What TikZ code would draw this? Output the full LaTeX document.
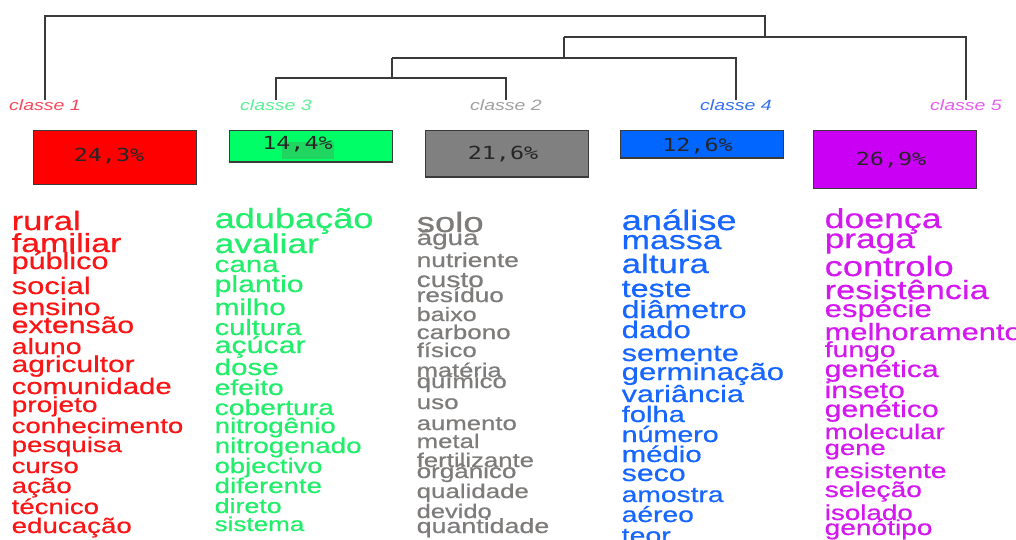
\documentclass[tikz,border=0pt]{standalone}
\usepackage{fontspec}
\usetikzlibrary{calc}
\newfontfamily\wordfont[FakeStretch=1.3,FakeBold=0.6]{Liberation Sans}
\newfontfamily\labfont[FakeStretch=1.3]{Liberation Sans}
\newfontfamily\pctfont[FakeStretch=1.3]{DejaVu Sans Mono}
\definecolor{redbox}{RGB}{255,0,0}
\definecolor{greenbox}{RGB}{0,255,102}
\definecolor{greenpatch}{RGB}{32,214,96}
\definecolor{graybox}{RGB}{128,128,128}
\definecolor{bluebox}{RGB}{0,102,255}
\definecolor{magbox}{RGB}{202,0,245}
\definecolor{redword}{RGB}{250,22,22}
\definecolor{greenword}{RGB}{34,238,108}
\definecolor{grayword}{RGB}{126,124,122}
\definecolor{blueword}{RGB}{22,102,255}
\definecolor{magword}{RGB}{212,24,240}
\definecolor{redlab}{RGB}{248,72,92}
\definecolor{greenlab}{RGB}{92,240,150}
\definecolor{graylab}{RGB}{160,160,160}
\definecolor{bluelab}{RGB}{52,112,240}
\definecolor{maglab}{RGB}{228,92,240}
\definecolor{treeline}{RGB}{58,58,58}
\tikzset{
	word/.style={anchor=base west, inner sep=0pt, font=\wordfont},
	classlab/.style={anchor=base, inner sep=0pt, font=\labfont\itshape\fontsize{15}{15}\selectfont},
	pbox/.style={draw=treeline, line width=1.4pt, anchor=north west, minimum width=163, inner sep=0pt},
	pct/.style={anchor=base, inner sep=0pt, text=black!85, font=\pctfont\fontsize{18}{18}\selectfont},
	tree/.style={draw=treeline, line width=1.3pt}
}
\begin{document}
\begin{tikzpicture}[x=1pt,y=-1pt]
\fill[white] (0,0) rectangle (1016,540);
\useasboundingbox (0,0) rectangle (1016,540);

\node[classlab, text=redlab] (c1) at (45,111) {classe 1};
\node[classlab, text=greenlab] (c3) at (276,111) {classe 3};
\node[classlab, text=graylab] (c2) at (506,111) {classe 2};
\node[classlab, text=bluelab] (c4) at (736,111) {classe 4};
\node[classlab, text=maglab] (c5) at (966,111) {classe 5};

\coordinate (root) at (765,16);
\coordinate (j1) at (765,37);
\coordinate (j2) at (564,58);
\coordinate (j3) at (392,78);
\draw[tree] (c1.north) |- (root) -- (j1);
\draw[tree] (j2 |- j1) -| (c5.north);
\draw[tree] (j2 |- j1) -- (j2);
\draw[tree] (j3 |- j2) -| (c4.north);
\draw[tree] (j3 |- j2) -- (j3);
\draw[tree] (c3.north) |- (j3) -| (c2.north);

\node[pbox, fill=redbox, minimum height=54] (b1) at (32.5,130) {};
\node[pbox, fill=greenbox, minimum height=31.5] (b3) at (228.5,130) {};
\fill[greenpatch] (281.7,141.7) rectangle (334,159);
\node[pbox, fill=graybox, minimum height=46.5] (b2) at (425,130) {};
\node[pbox, fill=bluebox, minimum height=27.5] (b4) at (620,130) {};
\node[pbox, fill=magbox, minimum height=58] (b5) at (812.5,130) {};
\node[pct] (p1) at (109,161) {24,3\%};
\node[pct] (p3) at (297.5,149.5) {14,4\%};
\node[pct] (p2) at (503,159.5) {21,6\%};
\node[pct] (p4) at (697.5,152) {12,6\%};
\node[pct] (p5) at (891,165.5) {26,9\%};

\foreach \w/\s/\y [count=\i] in {rural/26.5/230, familiar/26.2/252, público/23.5/269,
	social/23.8/294, ensino/23.2/315, extensão/23.2/333, aluno/22/354, agricultor/23/372,
	comunidade/22.6/394, projeto/21.6/412, conhecimento/21.2/433, pesquisa/21.2/452,
	curso/21.1/473, ação/21.3/493, técnico/21.2/514, educação/21.3/533}
	\node[word, text=redword] (r\i) at (11.5,\y) {\fontsize{\s}{\s}\selectfont \w};

\foreach \w/\s/\y [count=\i] in {adubação/27.8/228, avaliar/27.2/253, cana/22.7/272,
	plantio/23.2/292, milho/22.9/315, cultura/22.3/335, açúcar/23.3/353, dose/22.7/375,
	efeito/21.7/395, cobertura/21.7/415, nitrogênio/21.2/433, nitrogenado/21.4/453,
	objectivo/21/473, diferente/21.2/493, direto/20.6/513, sistema/20/531}
	\node[word, text=greenword] (g\i) at (214.5,\y) {\fontsize{\s}{\s}\selectfont \w};

\foreach \w/\s/\y [count=\i] in {solo/28.1/232, água/21.4/245, nutriente/20.2/267,
	custo/21.6/287, resíduo/20.1/302, baixo/19.3/321, carbono/20/339, físico/19.8/357,
	matéria/19.6/377, químico/19.8/388, uso/20/409, aumento/19.8/430, metal/19.8/448,
	fertilizante/19.8/467, orgânico/20/478, qualidade/19.9/498, devido/19.6/518,
	quantidade/20.6/533}
	\node[word, text=grayword] (s\i) at (416.5,\y) {\fontsize{\s}{\s}\selectfont \w};

\foreach \w/\s/\y [count=\i] in {análise/27.9/230, massa/26.1/249, altura/26.8/273,
	teste/24.8/297, diâmetro/24.7/318, dado/23.9/338, semente/23.5/361,
	germinação/23.9/380, variância/23.5/402, folha/22.4/422, número/22/442,
	médio/22.6/462, seco/23.3/481, amostra/21.7/502, aéreo/21.7/522, teor/21.9/543}
	\node[word, text=blueword] (a\i) at (621.5,\y) {\fontsize{\s}{\s}\selectfont \w};

\foreach \w/\s/\y [count=\i] in {doença/27.4/228, praga/27.1/248, controlo/27.9/276,
	resistência/26.4/299, espécie/23.9/317, melhoramento/23.7/340, fungo/21.8/357,
	genética/23.2/377, inseto/23.1/398, genético/23.2/417, molecular/21.3/439,
	gene/21.1/455, resistente/21.6/478, seleção/21.7/497, isolado/21.4/520,
	genótipo/21.6/535}
	\node[word, text=magword] (d\i) at (824.5,\y) {\fontsize{\s}{\s}\selectfont \w};
\end{tikzpicture}
\end{document}
